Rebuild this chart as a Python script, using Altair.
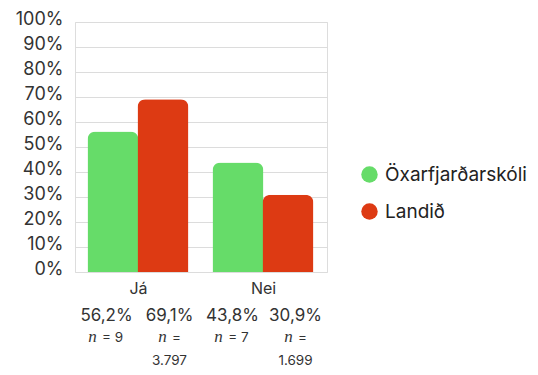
import altair as alt
import pandas as pd

categories = ["Já", "Nei"]
series = ["Öxarfjarðarskóli", "Landið"]
values_oxar = [56.2, 43.8]
values_land = [69.1, 30.9]
n_oxar = ["9", "7"]
n_land = ["3.797", "1.699"]
colors = ["#66DC69", "#DD3A13"]
y_ticks = [0, 10, 20, 30, 40, 50, 60, 70, 80, 90, 100]

FONT = "Inter"
TXT = "#333333"

rows = []
col = 0
for i, c in enumerate(categories):
    for s, vals, ns in [(series[0], values_oxar, n_oxar), (series[1], values_land, n_land)]:
        v = vals[i]
        rows.append(dict(cat=c, series=s, value=v,
                         pct=f"{v:.1f}".replace(".", ",") + "%",
                         n=ns[i], col=col))
        col += 1
df = pd.DataFrame(rows)

W, H = 252, 250

bars = alt.Chart(df).mark_bar(cornerRadiusTopLeft=8, cornerRadiusTopRight=8,
                              width=alt.RelativeBandSize(1.02)).encode(
    x=alt.X("cat:N", sort=categories,
            scale=alt.Scale(paddingInner=0.2, paddingOuter=0.108),
            axis=alt.Axis(title=None, labelAngle=0, labelFontSize=16, labelColor=TXT,
                          labelPadding=8, ticks=False, domain=False, grid=False,
                          labelFont=FONT)),
    xOffset=alt.XOffset("series:N", sort=series, scale=alt.Scale(paddingInner=0, paddingOuter=0)),
    y=alt.Y("value:Q", scale=alt.Scale(domain=[0, 100]),
            axis=alt.Axis(title=None, values=y_ticks, labelExpr="datum.value + '%'",
                          ticks=False, domain=False, gridColor="#dcdcdc", gridWidth=1.2,
                          labelFontSize=18, labelPadding=12, labelColor=TXT,
                          labelFont=FONT, labelFlush=False, labelOverlap=False,
                          labelOffset=-3)),
    color=alt.Color("series:N", sort=series,
                    scale=alt.Scale(domain=series, range=colors),
                    legend=alt.Legend(title=None, orient="none", legendX=285, legendY=143,
                                      symbolType="circle", symbolSize=270,
                                      symbolStrokeWidth=0, symbolOpacity=1,
                                      labelFontSize=19, labelFont=FONT,
                                      labelColor="#222222", rowPadding=17,
                                      labelOffset=6, padding=0, labelLimit=300)),
)

xcol = alt.X("col:O", scale=alt.Scale(paddingInner=0, paddingOuter=0), axis=None)

pct = alt.Chart(df).mark_text(font=FONT, fontSize=17, color=TXT, baseline="middle").encode(
    x=xcol, y=alt.value(294), text="pct:N")

green_n = alt.Chart(df).transform_filter(alt.datum.series == series[0])
red_n = alt.Chart(df).transform_filter(alt.datum.series == series[1])

g_it = green_n.mark_text(font="Liberation Serif", fontStyle="italic", fontSize=17,
                         color=TXT, baseline="middle", dx=-14).encode(
    x=xcol, y=alt.value(315), text=alt.value("n"))
g_rest = green_n.mark_text(font=FONT, fontSize=13.5, color=TXT, baseline="middle",
                           dx=6).encode(
    x=xcol, y=alt.value(316), text=alt.Text("nlabel:N")).transform_calculate(
    nlabel="'= ' + datum.n")

r_it = red_n.mark_text(font="Liberation Serif", fontStyle="italic", fontSize=17,
                       color=TXT, baseline="middle", dx=-7).encode(
    x=xcol, y=alt.value(315), text=alt.value("n"))
r_rest = red_n.mark_text(font=FONT, fontSize=13.5, color=TXT, baseline="middle",
                         dx=7).encode(
    x=xcol, y=alt.value(316), text=alt.value("="))
r_line2 = red_n.mark_text(font=FONT, fontSize=13.5, color=TXT, baseline="middle").encode(
    x=xcol, y=alt.value(339), text="n:N")

texts = alt.layer(pct, g_it, g_rest, r_it, r_rest, r_line2)

chart = alt.layer(bars, texts).resolve_scale(x="independent").properties(
    width=W, height=H,
    autosize=alt.AutoSizeParams(type="none"),
    padding={"left": 67, "top": 14, "right": 203, "bottom": 95},
).configure_view(stroke=None).configure(background="#ffffff")

chart.save("out.html", embed_options={"renderer": "svg", "actions": False})
